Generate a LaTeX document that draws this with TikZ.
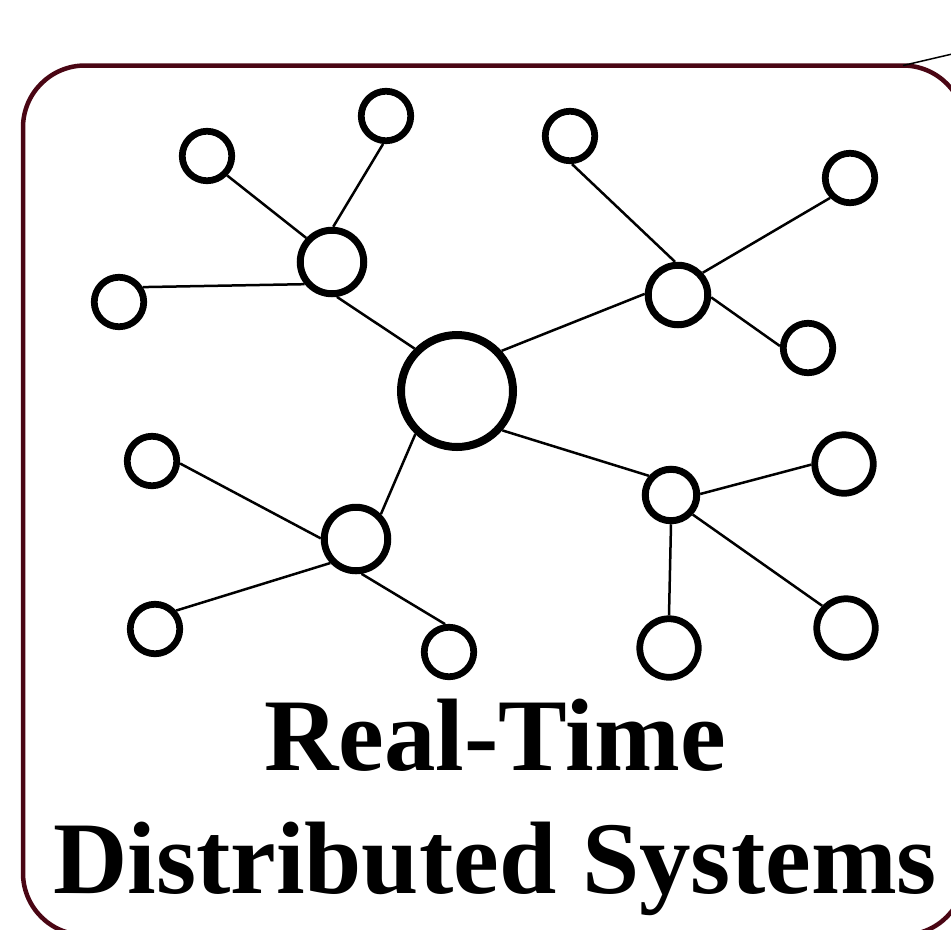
\documentclass[tikz,border=0pt]{standalone}
\usepackage{fontspec}
\setmainfont{Liberation Serif}
\definecolor{marun}{RGB}{74,6,20}

\begin{document}
\begin{tikzpicture}[x=0.2mm,y=-0.2mm,
      simpul/.style={circle,draw,fill=white,inner sep=0pt},
      pusat/.style={simpul,line width=1.6mm,minimum size=22.4mm},
      hub/.style={simpul,line width=1.4mm},
      daun/.style={simpul,line width=1.35mm,minimum size=9.9mm},
      dauntebal/.style={daun,minimum size=11.7mm},
      garis/.style={line width=0.5mm},
      judul/.style={align=center,anchor=base,inner sep=0pt,
        font=\fontsize{58.6pt}{70pt}\selectfont\bfseries}]

    \useasboundingbox (0,0) rectangle (951,929);

    % --- Bingkai: persegi bersudut tumpul, terpotong di kanan dan bawah ----
    \draw[marun,line width=0.9mm,rounded corners=12.4mm]
      (23,65.5) rectangle (965,935);
    \coordinate (sudut) at (903,65.5);
    \coordinate (ujung) at (995,44);

    % --- Simpul pusat dan empat simpul cabang ------------------------------
    \node[pusat] (tengah) at (457,391) {};
    \node[hub,minimum size=12.7mm] (hubka) at (332,262) {};
    \node[hub,minimum size=11.9mm] (hubna) at (678,295) {};
    \node[hub,minimum size=12.7mm] (hubkb) at (356,539) {};
    \node[hub,minimum size=10.3mm] (hubnb) at (671,495) {};

    % --- Daun tiap cabang --------------------------------------------------
    \node[daun] (ka1) at (207,156) {};
    \node[daun] (ka2) at (386,116) {};
    \node[daun] (ka3) at (119,302) {};
    \node[daun] (na1) at (570,136) {};
    \node[daun] (na2) at (850,178) {};
    \node[daun] (na3) at (808,348) {};
    \node[daun] (kb1) at (152,461) {};
    \node[daun] (kb2) at (155,629) {};
    \node[daun] (kb3) at (449,652) {};
    \node[dauntebal] (nb1) at (844,464) {};
    \node[dauntebal] (nb2) at (669,648) {};
    \node[dauntebal] (nb3) at (846,628) {};

    % --- Judul (anchor base jatuh di baris terakhir) -----------------------
    \node[judul] (teks) at (495,893.5) {Real-Time\\Distributed Systems};

    % --- Garis penghubung --------------------------------------------------
    % Pusat ke empat cabang.
    \draw[garis] (tengah.135) -- (hubka.-82);
    \draw[garis] (tengah.42) -- (hubna.178);
    \draw[garis] (tengah.226) -- (hubkb.45);
    \draw[garis] (tengah.-41) -- (hubnb.139);
    % Cabang kiri atas.
    \draw[garis] (hubka.137) -- (ka1.-44);
    \draw[garis] (hubka.88) -- (ka2.-96);
    \draw[garis] (hubka.219) -- (ka3.32);
    % Cabang kanan atas.
    \draw[garis] (hubna.95) -- (na1.-86);
    \draw[garis] (hubna.42) -- (na2.225);
    \draw[garis] (hubna.-4) -- (na3.176);
    % Cabang kiri bawah.
    \draw[garis] (hubkb.179) -- (kb1.-5);
    \draw[garis] (hubkb.223) -- (kb2.41);
    \draw[garis] (hubkb.-81) -- (kb3.98);
    % Cabang kanan bawah.
    \draw[garis] (hubnb.2) -- (nb1.181);
    \draw[garis] (hubnb.-90) -- (nb2.90);
    \draw[garis] (hubnb.-42) -- (nb3.137);
    % Garis tipis keluar dari sudut kanan atas bingkai.
    \draw[line width=0.3mm] (sudut) -- (ujung);
  \end{tikzpicture}
\end{document}
